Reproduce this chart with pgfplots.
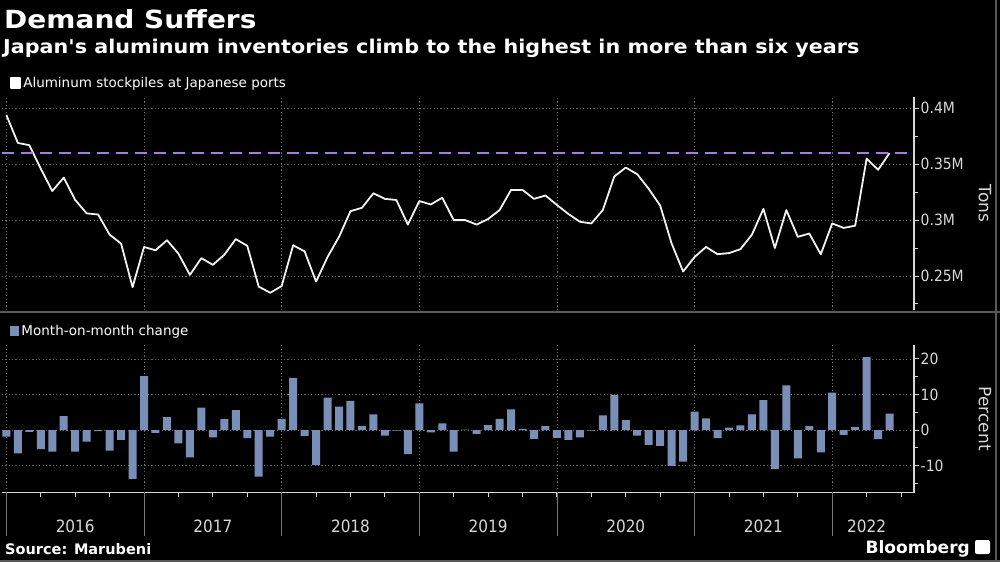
\documentclass[border=0pt]{standalone}
\usepackage{fontspec}
\usepackage{pgfplots}
\usepackage{pgfplotstable}
\pgfplotsset{compat=1.18}
\setmainfont{DejaVu Sans}
\IfFontExistsTF{DejaVu Sans Condensed}
  {\newfontfamily\condfont{DejaVu Sans Condensed}}
  {\newfontfamily\condfont[FakeStretch=0.85]{DejaVu Sans}}
\newfontface\headfont[FakeStretch=1.12]{DejaVu Sans Bold}
\newfontface\subheadfont[FakeStretch=1.09]{DejaVu Sans Bold}

\definecolor{sepc}{RGB}{88,88,88}
\definecolor{yearc}{RGB}{120,120,120}
\definecolor{gridc}{RGB}{105,105,105}
\definecolor{tickc}{RGB}{215,215,215}
\definecolor{barc}{RGB}{122,143,184}
\definecolor{refc}{RGB}{170,122,226}
\definecolor{linec}{RGB}{242,242,242}

% Aluminum stockpiles at Japanese ports (tons), month index 0 = Jan 2016
\pgfplotstableread{
i tons
0 394000
1 369000
2 367000
3 346000
4 326000
5 338000
6 318000
7 306000
8 305000
9 287000
10 279000
11 240000
12 276000
13 273000
14 282000
15 270000
16 251000
17 266000
18 260000
19 269000
20 283000
21 277000
22 240500
23 235000
24 241000
25 277500
26 272000
27 245000
28 267000
29 285000
30 308000
31 311000
32 324000
33 319000
34 318000
35 296000
36 317000
37 314000
38 320000
39 300000
40 300000
41 296000
42 301000
43 309000
44 327000
45 327000
46 319000
47 322000
48 313500
49 305500
50 298500
51 297000
52 309000
53 339000
54 347000
55 341000
56 328000
57 313000
58 279000
59 254000
60 267000
61 276000
62 269500
63 270500
64 274000
65 287000
66 310000
67 275000
68 309000
69 285000
70 288000
71 269500
72 297000
73 293000
74 295000
75 355000
76 345000
77 360000
}\stock

% Month-on-month change (percent)
\pgfplotstableread{
i pct
0 -1.9
1 -6.6
2 -0.5
3 -5.4
4 -6.1
5 3.9
6 -6.1
7 -3.3
8 -0.3
9 -5.8
10 -2.8
11 -13.8
12 15.2
13 -0.8
14 3.6
15 -3.8
16 -7.7
17 6.3
18 -2.1
19 3.1
20 5.6
21 -2.3
22 -13.1
23 -1.9
24 3.1
25 14.7
26 -1.7
27 -9.9
28 9.1
29 6.6
30 8.2
31 1.1
32 4.4
33 -1.6
34 -0.2
35 -6.8
36 7.5
37 -0.7
38 1.9
39 -6.1
40 0.1
41 -1.1
42 1.4
43 3.1
44 5.8
45 0.3
46 -2.5
47 1.1
48 -2.2
49 -2.8
50 -2.1
51 -0.2
52 4.1
53 9.8
54 2.8
55 -1.6
56 -4.2
57 -4.5
58 -10.1
59 -8.9
60 5.2
61 3.3
62 -2.3
63 0.7
64 1.3
65 4.4
66 8.4
67 -11.0
68 12.6
69 -8.0
70 1.1
71 -6.3
72 10.5
73 -1.4
74 0.9
75 20.5
76 -2.6
77 4.6
}\mom

\pgfplotsset{
  panel/.style={
    scale only axis, width=912.2pt, xmin=-0.4, xmax=79.13,
    axis x line*=bottom, axis y line*=right,
    axis line style={-, draw=tickc, line width=1.1pt},
    tick align=outside, tick style={draw=tickc, line width=1pt},
    major tick length=4.5pt, minor tick length=4pt,
    grid style={draw=gridc, line width=0.8pt, dash pattern=on 1.2pt off 2.2pt},
    scaled y ticks=false,
    /pgf/number format/assume math mode=true,
    yticklabel style={font=\condfont\fontsize{15.5}{16}\selectfont, text=tickc, anchor=west, inner sep=0pt, xshift=2pt},
    every axis y label/.style={at={(axis description cs:1,0.5)}, rotate=-90, anchor=center, yshift=71pt, font=\fontsize{17}{17}\selectfont, text=tickc},
    clip mode=individual,
    legend style={at={(0,1)}, anchor=south west, draw=none, fill=none, text=white, inner sep=0pt, font=\fontsize{13.5}{14}\selectfont},
  },
}

\begin{document}
\begin{tikzpicture}
\path[use as bounding box, fill=black] (0,0) rectangle (1000pt,562pt);

% titles
\node[anchor=base west, inner sep=0pt, text=white, font=\headfont\fontsize{25}{25}\selectfont] at (4pt,533.7pt) {Demand Suffers};
\node[anchor=base west, inner sep=0pt, text=white, font=\subheadfont\fontsize{19}{19}\selectfont] at (3pt,508.7pt) {Japan's aluminum inventories climb to the highest in more than six years};

% separator between panels
\draw[sepc, line width=2pt] (0,249.5pt) -- (1000pt,249.5pt);

% upper panel: stockpiles
\begin{axis}[panel, at={(1.8pt,252pt)}, anchor=south west, height=213pt,
    ymin=219600, ymax=410100,
    xtick={0,12,...,72}, xticklabels={}, x axis line style={draw=none},
    xtick style={draw=none}, xmajorgrids,
    ytick={250000,300000,350000,400000}, yticklabels={0.25M,0.3M,0.35M,0.4M},
    minor ytick={225000,275000,325000,375000}, ymajorgrids,
    ylabel={Tons},
    legend style={xshift=8pt, yshift=6pt}]
  \addplot[linec, line width=1.8pt, line join=round,
    legend image code/.code={\fill[white] (0pt,-4.7pt) rectangle (9.5pt,4.7pt);}]
    table[x=i, y=tons] {\stock};
  \addlegendentry{Aluminum stockpiles at Japanese ports}
  % six-year-high reference level
  \addplot[refc, line width=2.7pt, dash pattern=on 12pt off 7pt, forget plot]
    coordinates {(-0.4,360000) (79.13,360000)};
\end{axis}

% lower panel: month-on-month change
\begin{axis}[panel, at={(1.8pt,69.3pt)}, anchor=south west, height=147.7pt,
    ymin=-17.66, ymax=23.94,
    xtick={0,3,...,78},
    xticklabels={,,2016,,,,2017,,,,2018,,,,2019,,,,2020,,,,2021,,,2022,},
    xticklabel style={font=\condfont\fontsize{17}{17}\selectfont, text=tickc, anchor=base, yshift=-35pt},
    extra x ticks={0,12,24,36,48,60,72}, extra x tick labels={},
    extra x tick style={grid=major, major tick length=43pt, tick style={draw=yearc, line width=0.8pt}},
    ytick={-10,0,10,20}, yticklabels={-10,0,10,20},
    minor ytick={-15,-5,5,15}, ymajorgrids,
    ylabel={Percent},
    legend style={xshift=8pt, yshift=6pt}]
  \addplot[ybar, bar width=8pt, bar shift=0pt, fill=barc, draw=none,
    legend image code/.code={\fill[barc] (0pt,-4.7pt) rectangle (9.5pt,4.7pt);}]
    table[x=i, y=pct] {\mom};
  \addlegendentry{Month-on-month change}
\end{axis}

% footer
\node[anchor=base west, inner sep=0pt, text=white, font=\bfseries\fontsize{14.5}{14.5}\selectfont] at (5pt,8pt) {Source: Marubeni};
\node[anchor=base east, inner sep=0pt, text=white, font=\bfseries\fontsize{17}{17}\selectfont] at (970pt,9pt) {Bloomberg};
\fill[white, rounded corners=2pt] (975pt,8pt) rectangle (990pt,22pt);

% frame edges
\draw[sepc, line width=1.5pt] (996pt,0) -- (996pt,562pt);
\draw[sepc, line width=1.5pt] (0,1.2pt) -- (1000pt,1.2pt);
\end{tikzpicture}
\end{document}
